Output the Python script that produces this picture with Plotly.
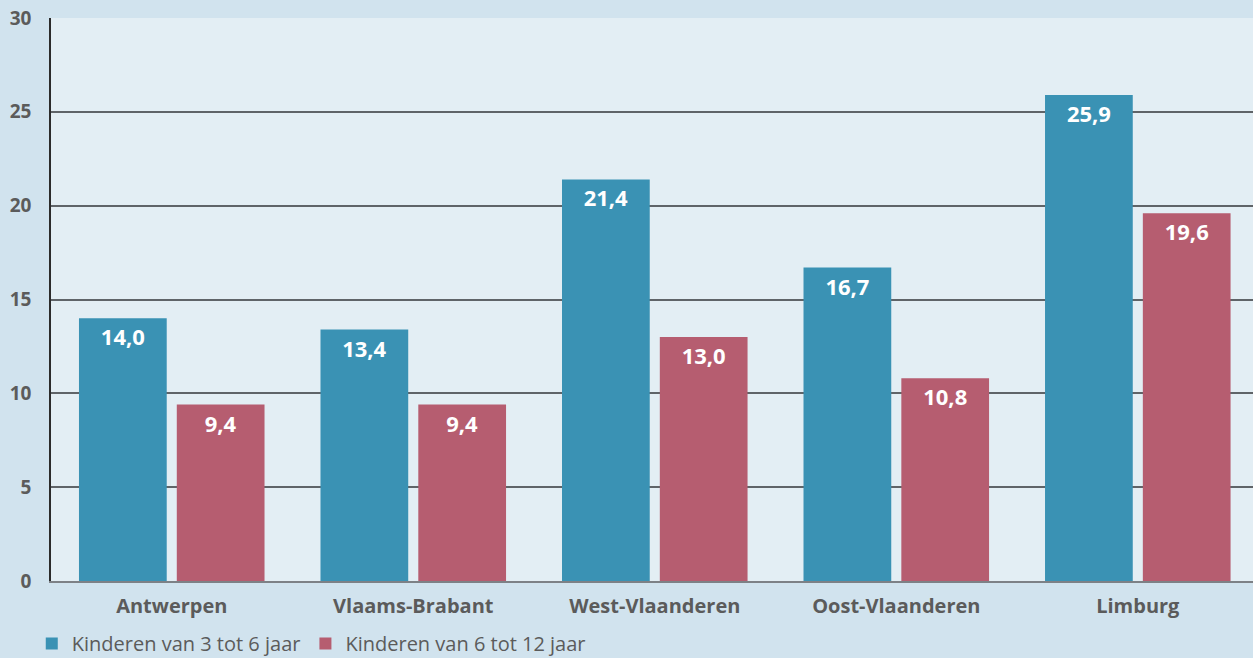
import plotly.graph_objects as go

categories = ["Antwerpen", "Vlaams-Brabant", "West-Vlaanderen", "Oost-Vlaanderen", "Limburg"]
series_3_6 = [14.0, 13.4, 21.4, 16.7, 25.9]
series_6_12 = [9.4, 9.4, 13.0, 10.8, 19.6]
series_names = ["Kinderen van 3 tot 6 jaar", "Kinderen van 6 tot 12 jaar"]
y_ticks = [0, 5, 10, 15, 20, 25, 30]

blue = "#3a92b4"
red = "#b65d70"
grey_txt = "#5b5b5b"
font_family = "'Open Sans', 'Noto Sans', sans-serif"

def fmt(v):
    return f"{v:.1f}".replace(".", ",")

fig = go.Figure()
for name, vals, col in [(series_names[0], series_3_6, blue), (series_names[1], series_6_12, red)]:
    fig.add_trace(go.Bar(
        x=categories, y=vals, name=name, marker=dict(color=col, line=dict(width=0)),
        text=[fmt(v) for v in vals], textposition="inside", insidetextanchor="end",
        textangle=0,
        textfont=dict(color="white", size=22, family=font_family, weight="bold"),
        cliponaxis=False,
    ))

fig.update_layout(
    width=1253, height=658,
    margin=dict(l=51, r=0, t=18, b=77, autoexpand=False),
    paper_bgcolor="#d1e3ee",
    plot_bgcolor="#e3eef4",
    barmode="group",
    bargap=0.19,
    bargroupgap=0.103,
    showlegend=True,
    legend=dict(orientation="h", x=-0.016, xanchor="left",
                yref="container", y=0.022, yanchor="middle",
                font=dict(size=20, color=grey_txt, family=font_family),
                tracegroupgap=0, bgcolor="rgba(0,0,0,0)"),
    uniformtext=dict(mode=False),
)
fig.update_xaxes(
    range=[-0.5, 4.477],
    showgrid=False, showline=True, linecolor="#7d8186", linewidth=2,
    ticks="outside", ticklen=6, tickcolor="rgba(0,0,0,0)",
    tickfont=dict(size=20, color=grey_txt, family=font_family, weight="bold"),
)
fig.update_yaxes(
    range=[0, 30], tickvals=y_ticks, showgrid=True, gridcolor="#5f6468", gridwidth=2,
    showline=True, linecolor="#2b2b2b", linewidth=1.5, zeroline=False,
    ticks="outside", ticklen=14, tickcolor="rgba(0,0,0,0)",
    tickfont=dict(size=19, color=grey_txt, family=font_family, weight="bold"),
)
fig.write_html("out.html", config={"displayModeBar": False},
               post_script="document.body.style.margin='0';document.body.style.padding='0';")
